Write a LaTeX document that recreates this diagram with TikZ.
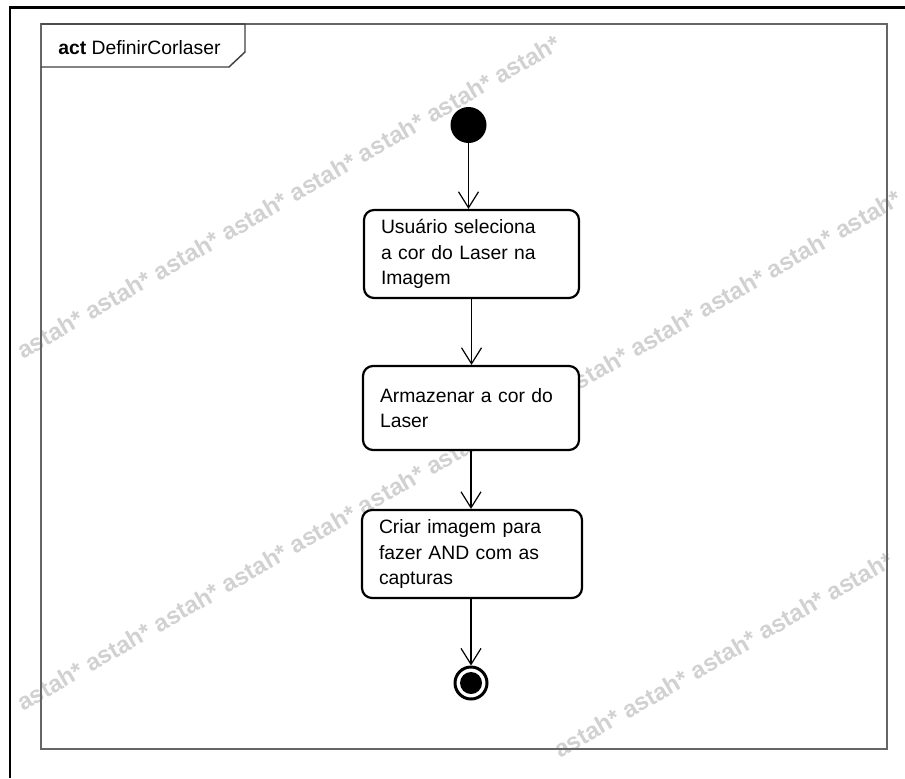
\documentclass[tikz,border=0pt]{standalone}
\usepackage{fontspec}
\setmainfont{Liberation Sans}
\usetikzlibrary{arrows.meta}
\begin{document}
\begin{tikzpicture}[x=0.75pt,y=-0.75pt,
  actbox/.style={draw=black, line width=1.65pt, rounded corners=7.5pt, fill=white, align=left,
    inner xsep=12.75pt, inner ysep=0pt, font=\fontsize{14.5pt}{19.2pt}\selectfont},
  flow/.style={draw=black, line width=0.9pt, -{Straight Barb[length=12pt,width=15pt,line width=0.9pt]}},
  wm/.style={text=black!18, font=\fontsize{18pt}{20pt}\selectfont\bfseries, rotate=30,
    anchor=base west, inner sep=0pt},
  initnode/.style={circle, fill=black, minimum size=27pt, inner sep=0pt},
  finalnode/.style={circle, draw=black, line width=2.25pt, minimum size=24pt, inner sep=0pt,
    path picture={\fill[black] (path picture bounding box.center) circle (8.25pt);}},
  framestyle/.style={draw=black!60, line width=1.1pt},
  tagstyle/.style={draw=black!75, line width=1.1pt},
]
\useasboundingbox (0,0) rectangle (905,778);
% watermark
\node[wm] (wma) at (23,360) {astah* astah* astah* astah* astah* astah* astah* astah*};
\node[wm] (wmc) at (23,712) {astah* astah* astah* astah* astah* astah* astah* astah* astah* astah* astah* astah* astah*};
\node[wm] (wmd) at (560,759) {astah* astah* astah* astah* astah*};
% outer border lines
\draw[black, line width=1.9pt] (10,778) -- (10,7.5) -- (905,7.5);
% frame
\draw[framestyle] (41,24) rectangle (887,749);
\draw[tagstyle] (41,24) -- (245,24) -- (245,52) -- (229,67) -- (41,67);
\node[anchor=west, inner sep=0pt, font=\fontsize{14.5pt}{17pt}\selectfont] (lbl) at (58,48) {\textbf{act} DefinirCorlaser};
% nodes
\node[initnode] (init) at (468.5,125) {};
\node[actbox, minimum width=161.25pt, minimum height=66pt, text width=135.75pt] (b1) at (471.5,254)
  {Usuário seleciona\\a cor do Laser na\\Imagem};
\node[actbox, minimum width=162pt, minimum height=63pt, text width=136.5pt] (b2) at (471,408)
  {Armazenar a cor do\\Laser};
\node[actbox, minimum width=165pt, minimum height=66pt, text width=139.5pt] (b3) at (472,554)
  {Criar imagem para\\fazer AND com as\\capturas};
\node[finalnode] (fin) at (471,683) {};
% flows
\draw[flow] (init.south) -- (init.south |- b1.north);
\draw[flow] (b1.south) -- (b1.south |- b2.north);
\draw[flow] (b2.south) -- (b2.south |- b3.north);
\draw[flow] (fin |- b3.south) -- (fin.north);
\end{tikzpicture}
\end{document}
